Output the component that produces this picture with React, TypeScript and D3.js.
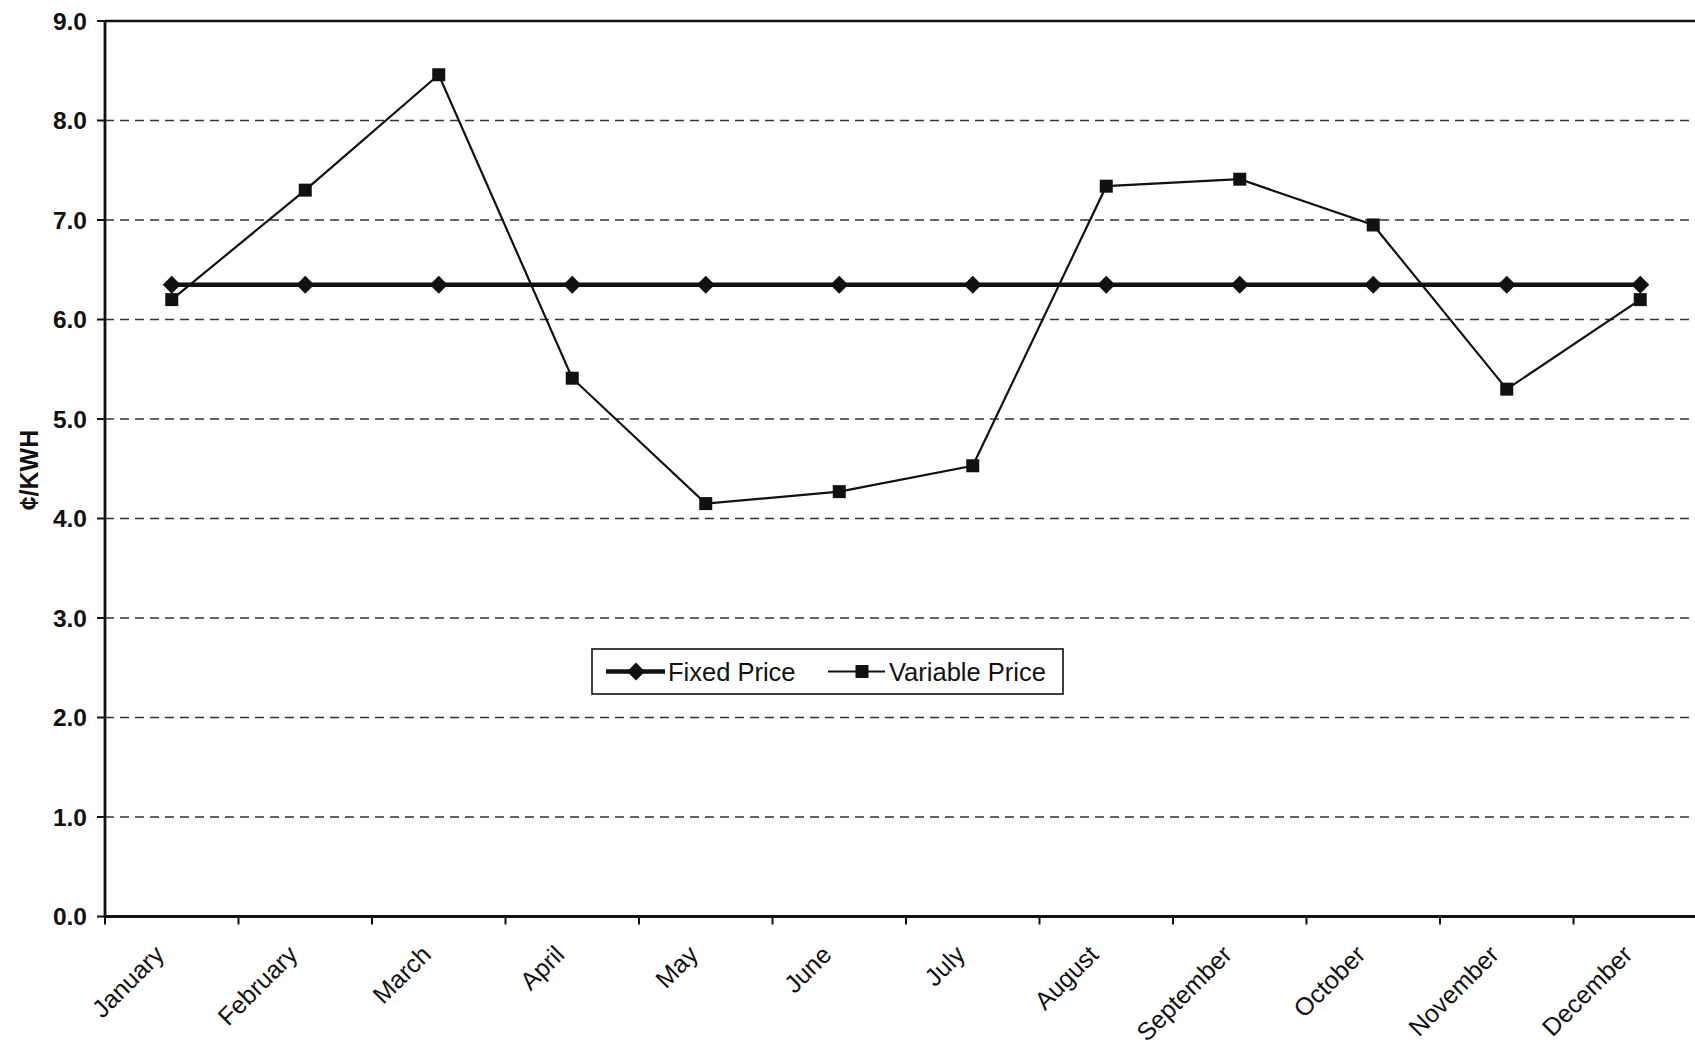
import React from 'react';
import * as d3 from 'd3';

const months = ['January', 'February', 'March', 'April', 'May', 'June', 'July', 'August', 'September', 'October', 'November', 'December'];
const fixedPrice = [6.35, 6.35, 6.35, 6.35, 6.35, 6.35, 6.35, 6.35, 6.35, 6.35, 6.35, 6.35];
const variablePrice = [6.2, 7.3, 8.46, 5.41, 4.15, 4.27, 4.53, 7.34, 7.41, 6.95, 5.3, 6.2];
const yTicks = [0, 1, 2, 3, 4, 5, 6, 7, 8, 9];
const yLabel = '¢/KWH';
const seriesNames = ['Fixed Price', 'Variable Price'];

const W = 1695;
const H = 1049;
const FONT = '"Liberation Sans", Arial, Helvetica, sans-serif';

const App = () => {
    const margin = { top: 21, left: 105 };
    const bottom = 916.5;
    const bandW = 133.5;

    // Scales
    const x = d3.scaleBand<string>()
        .domain(months)
        .range([margin.left, margin.left + bandW * months.length])
        .padding(0);
    const cx = (m: string) => (x(m) as number) + x.bandwidth() / 2;

    const y = d3.scaleLinear().domain([0, 9]).range([bottom, margin.top]);

    const line = d3.line<number>()
        .x((d, i) => cx(months[i]))
        .y(d => y(d));

    const diamond = (px: number, py: number, r: number) =>
        `M${px},${py - r}L${px + r},${py}L${px},${py + r}L${px - r},${py}Z`;

    const boundaries = d3.range(months.length + 1).map(i => margin.left + i * bandW);

    return (
        <svg width={W} height={H} style={{ position: 'absolute', left: 0, top: 0, background: '#fff' }}
            fontFamily={FONT}>
            <rect x={0} y={0} width={W} height={H} fill="#fff" />

            {/* Grid lines */}
            {yTicks.filter(t => t > 0 && t < 9).map(t => (
                <line key={t} x1={margin.left} x2={W} y1={y(t)} y2={y(t)}
                    stroke="#333" strokeWidth={1.7} strokeDasharray="9,6" />
            ))}
            {/* Top border */}
            <line x1={margin.left} x2={W} y1={y(9)} y2={y(9)} stroke="#111" strokeWidth={2.4} />

            {/* Y axis */}
            <line x1={margin.left} x2={margin.left} y1={y(9) - 1} y2={bottom + 1} stroke="#111" strokeWidth={2.8} />
            {yTicks.map(t => (
                <g key={t}>
                    <line x1={margin.left - 8} x2={margin.left} y1={y(t)} y2={y(t)} stroke="#111" strokeWidth={2} />
                    <text x={margin.left - 18} y={y(t)} dy="0.36em" textAnchor="end"
                        fontSize={24.5} fontWeight="bold" fill="#111">{t.toFixed(1)}</text>
                </g>
            ))}
            <text transform={`translate(38,470) rotate(-90)`} textAnchor="middle"
                fontSize={25} fontWeight="bold" fill="#111">{yLabel}</text>

            {/* X axis */}
            <line x1={margin.left} x2={W} y1={bottom} y2={bottom} stroke="#111" strokeWidth={2.8} />
            {boundaries.map((bx, i) => (
                <line key={i} x1={bx} x2={bx} y1={bottom} y2={bottom + 8} stroke="#111" strokeWidth={2} />
            ))}
            {months.map(m => (
                <text key={m} transform={`translate(${cx(m) - 19},${bottom + 27}) rotate(-45)`}
                    textAnchor="end" dy="0.72em" fontSize={25} fill="#111">{m}</text>
            ))}

            {/* Variable price series */}
            <path d={line(variablePrice) as string} fill="none" stroke="#111" strokeWidth={2.2} />
            {/* Fixed price series */}
            <path d={line(fixedPrice) as string} fill="none" stroke="#111" strokeWidth={4.5} />
            {fixedPrice.map((v, i) => (
                <path key={'f' + i} d={diamond(cx(months[i]), y(v), 9)} fill="#111" />
            ))}
            {variablePrice.map((v, i) => (
                <rect key={'v' + i} x={cx(months[i]) - 6.5} y={y(v) - 6.5} width={13} height={13} fill="#111" />
            ))}

            {/* Legend */}
            <g>
                <rect x={592} y={649} width={471} height={45} fill="#fff" stroke="#111" strokeWidth={1.6} />
                <line x1={606} x2={665} y1={671.5} y2={671.5} stroke="#111" strokeWidth={4.5} />
                <path d={diamond(636, 671.5, 9)} fill="#111" />
                <text x={668} y={671.5} dy="0.36em" fontSize={25.5} fill="#111">{seriesNames[0]}</text>
                <line x1={828} x2={885} y1={671.5} y2={671.5} stroke="#111" strokeWidth={2.2} />
                <rect x={855.5} y={665} width={13} height={13} fill="#111" />
                <text x={889} y={671.5} dy="0.36em" fontSize={25.5} fill="#111">{seriesNames[1]}</text>
            </g>
        </svg>
    );
};

export default App;
